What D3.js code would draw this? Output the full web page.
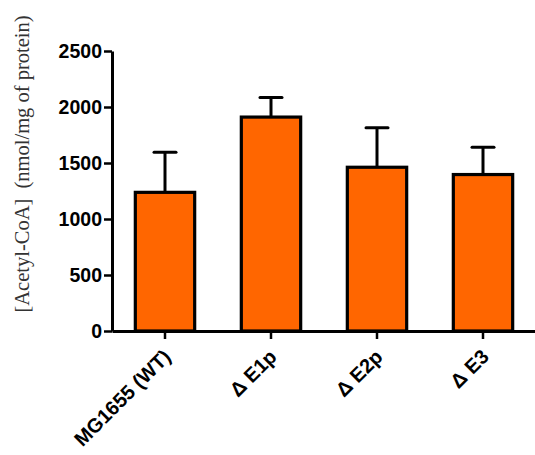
<!DOCTYPE html>
<html>
<head>
<meta charset="utf-8">
<script src="https://cdn.jsdelivr.net/npm/d3@7"></script>
<style>
  body { margin: 0; background: #fff; }
  svg { display: block; }
</style>
</head>
<body>
<div id="chart"></div>
<script>
// values
const strains = ['MG1655 (WT)', '\u0394 E1p', '\u0394 E2p', '\u0394 E3'];
const means = [1238, 1910, 1462, 1397];
const sds = [358, 174, 353, 244];
const yTicks = [0, 500, 1000, 1500, 2000, 2500];

const W = 535, H = 455;
const mLeft = 112, mRight = 536, mTop = 51, mBottom = 331;

const svg = d3.select('#chart').append('svg')
  .attr('width', W).attr('height', H);

const x = d3.scaleBand().domain(strains).range([mLeft, mRight])
  .paddingInner(0.44).paddingOuter(0.22);
const y = d3.scaleLinear().domain([0, 2500]).range([mBottom, mTop]);

const data = strains.map((s, i) => ({ s, m: means[i], e: sds[i] }));

// error bars (upper only), drawn under the bars
const err = svg.append('g');
err.selectAll('line.v').data(data).join('line')
  .attr('class', 'v')
  .attr('x1', d => x(d.s) + x.bandwidth() / 2)
  .attr('x2', d => x(d.s) + x.bandwidth() / 2)
  .attr('y1', d => y(d.m))
  .attr('y2', d => y(d.m + d.e))
  .attr('stroke', '#000').attr('stroke-width', 3);
err.selectAll('line.c').data(data).join('line')
  .attr('class', 'c')
  .attr('x1', d => x(d.s) + x.bandwidth() / 2 - 11)
  .attr('x2', d => x(d.s) + x.bandwidth() / 2 + 11)
  .attr('y1', d => y(d.m + d.e))
  .attr('y2', d => y(d.m + d.e))
  .attr('stroke', '#000').attr('stroke-width', 3)
  .attr('stroke-linecap', 'round');

// bars
svg.append('g').selectAll('rect').data(data).join('rect')
  .attr('x', d => x(d.s))
  .attr('y', d => y(d.m))
  .attr('width', x.bandwidth())
  .attr('height', d => y(0) - y(d.m))
  .attr('fill', '#ff6600')
  .attr('stroke', '#000')
  .attr('stroke-width', 3.2);

// y axis
const ya = svg.append('g')
  .attr('transform', `translate(${mLeft},0)`)
  .call(d3.axisLeft(y).tickValues(yTicks).tickFormat(d3.format('d'))
    .tickSize(8).tickPadding(2).tickSizeOuter(0));
ya.select('.domain').attr('stroke-width', 3);
ya.selectAll('.tick line').attr('stroke-width', 2.5);
ya.selectAll('.tick text')
  .attr('font-family', 'Liberation Sans, Arial, sans-serif')
  .attr('font-weight', 'bold').attr('font-size', 19.5).attr('fill', '#000')
  .attr('dy', '0.34em');

// x axis
const xa = svg.append('g')
  .attr('transform', `translate(0,${mBottom})`)
  .call(d3.axisBottom(x).tickSize(8).tickSizeOuter(0));
xa.select('.domain').attr('stroke-width', 3);
xa.selectAll('.tick line').attr('stroke-width', 2.5);
xa.selectAll('.tick text')
  .attr('font-family', 'Liberation Sans, Arial, sans-serif')
  .attr('font-weight', 'bold').attr('font-size', 20).attr('fill', '#000')
  .attr('text-anchor', 'end')
  .attr('dy', null).attr('y', 0)
  .attr('transform', 'translate(7,27) rotate(-45)');

// y label
svg.append('text')
  .attr('transform', `translate(29,164) rotate(-90)`)
  .attr('text-anchor', 'middle')
  .attr('font-family', 'Liberation Serif, Times New Roman, serif')
  .attr('font-size', 20.5)
  .attr('fill', '#333')
  .attr('xml:space', 'preserve')
  .text('[Acetyl-CoA]  (nmol/mg of protein)');
</script>
</body>
</html>
